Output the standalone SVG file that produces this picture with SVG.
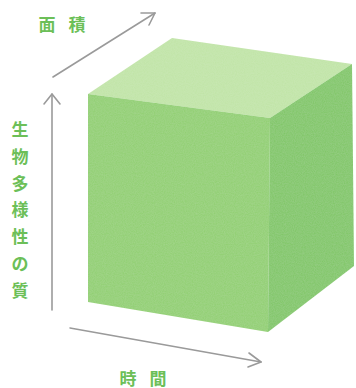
<svg xmlns="http://www.w3.org/2000/svg" width="356" height="388" viewBox="0 0 356 388">
  <style>
    .axis { fill: none; stroke: #9a9a9a; stroke-width: 1.6; stroke-linecap: round; stroke-linejoin: round; }
    .label { font-family: "Noto Sans CJK JP", "Noto Sans", sans-serif; font-size: 17px; font-weight: 700; fill: #6cbf58; text-anchor: middle; dominant-baseline: central; }
  </style>
  <defs>
    <filter id="paper" x="0" y="0" width="1" height="1">
      <feTurbulence type="fractalNoise" baseFrequency="0.9" numOctaves="2" seed="3" result="n"/>
      <feColorMatrix in="n" type="matrix" values="0 0 0 0 1  0 0 0 0 1  0 0 0 0 1  0 0 0 0.12 0" result="w"/>
      <feComposite in="w" in2="SourceGraphic" operator="in" result="wm"/>
      <feMerge><feMergeNode in="SourceGraphic"/><feMergeNode in="wm"/></feMerge>
    </filter>
  </defs>
  <rect width="356" height="388" fill="#ffffff"/>

  <!-- cube: top, front and right faces -->
  <g id="cube" filter="url(#paper)">
    <polygon points="88,94 172,38 352,64 270,118" fill="#c0e4a6"/>
    <polygon points="88,94 270,118 268,332 88,302" fill="#90cf70"/>
    <polygon points="270,118 352,64 354,266 268,332" fill="#7fc665"/>
  </g>

  <!-- axes -->
  <g id="connectors">
    <line class="axis" x1="52" y1="310" x2="52" y2="94"/>
    <polyline class="axis" points="44,104 52,94 60,104"/>
    <line class="axis" x1="53" y1="77" x2="155" y2="13"/>
    <polyline class="axis" points="141,13 155,13 149,25"/>
    <line class="axis" x1="70" y1="328" x2="261" y2="362"/>
    <polyline class="axis" points="249,353 261,362 248,367"/>
  </g>

  <g id="label-area">
    <text class="label" x="47" y="23">面</text>
    <text class="label" x="77" y="23">積</text>
  </g>
  <g id="label-biodiversity">
    <text class="label" x="20" y="128">生</text>
    <text class="label" x="20" y="155">物</text>
    <text class="label" x="20" y="182">多</text>
    <text class="label" x="20" y="208">様</text>
    <text class="label" x="20" y="235">性</text>
    <text class="label" x="20" y="262">の</text>
    <text class="label" x="20" y="289">質</text>
  </g>
  <g id="label-time">
    <text class="label" x="128" y="377">時</text>
    <text class="label" x="158" y="377">間</text>
  </g>
</svg>
